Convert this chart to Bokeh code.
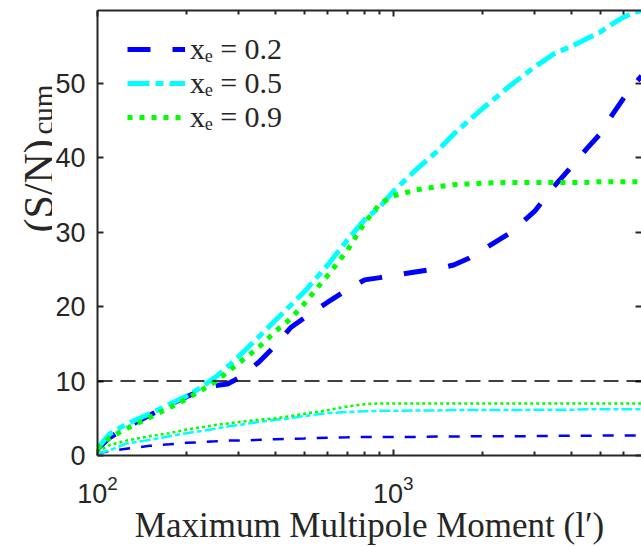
import math
from bokeh.plotting import figure
from bokeh.layouts import row
from bokeh.models import (FixedTicker, LogAxis, LinearAxis, Span, Label, Legend, LegendItem,
                          Range1d, CustomJSTickFormatter)
from bokeh.embed import file_html
from bokeh.resources import INLINE

# ---- data ----
ell = [100, 110, 125, 150, 175, 200, 225, 250, 275, 300, 350, 400, 450, 500, 600, 700, 800,
       900, 1000, 1200, 1400, 1600, 1800, 2000, 2500, 3000, 3500, 4000, 4500, 5000, 5500,
       6000, 6500, 6900]

sn_02_thick = [0.9, 2.4, 3.8, 5.4, 6.8, 7.9, 8.8, 9.4, 9.6, 10.4, 12.5, 14.8, 17.2, 18.5, 20.6,
               22.3, 23.6, 23.9, 24.2, 24.7, 25.1, 25.6, 26.5, 27.6, 30.0, 32.8, 36.2, 38.8,
               41.2, 43.2, 45.8, 48.0, 49.8, 51.0]
sn_05_thick = [1.0, 2.9, 4.2, 5.6, 6.9, 8.0, 9.2, 10.5, 11.9, 13.3, 15.9, 18.2, 20.2, 22.0, 25.6,
               29.0, 31.7, 33.4, 35.5, 38.5, 40.8, 43.2, 45.0, 46.6, 49.8, 52.2, 54.0, 55.0,
               56.0, 56.9, 58.0, 58.9, 59.5, 59.8]
sn_09_thick = [0.9, 2.4, 3.6, 5.1, 6.4, 7.6, 8.8, 9.9, 11.2, 12.4, 14.5, 16.7, 18.4, 20.4, 24.2,
               27.6, 31.3, 33.8, 34.9, 35.7, 36.1, 36.4, 36.5, 36.6, 36.7, 36.7, 36.7, 36.7,
               36.7, 36.8, 36.8, 36.8, 36.8, 36.8]

sn_02_thin = [0.3, 0.6, 0.9, 1.3, 1.5, 1.7, 1.8, 1.9, 2.0, 2.0, 2.1, 2.2, 2.25, 2.3, 2.4, 2.45,
              2.5, 2.5, 2.5, 2.5, 2.55, 2.55, 2.6, 2.6, 2.6, 2.6, 2.65, 2.65, 2.65, 2.7, 2.7,
              2.7, 2.7, 2.7]
sn_05_thin = [0.3, 0.7, 1.6, 2.1, 2.6, 3.0, 3.3, 3.6, 3.9, 4.1, 4.5, 4.8, 5.0, 5.3, 5.7, 5.85,
              5.95, 6.0, 6.0, 6.05, 6.05, 6.1, 6.1, 6.1, 6.1, 6.15, 6.15, 6.15, 6.2, 6.2, 6.2,
              6.2, 6.2, 6.2]
sn_09_thin = [0.5, 1.4, 2.0, 2.6, 3.0, 3.5, 3.8, 4.1, 4.3, 4.5, 4.8, 5.0, 5.3, 5.6, 6.1, 6.6,
              6.9, 7.0, 7.0, 7.0, 7.0, 7.0, 7.0, 7.0, 7.0, 7.0, 7.0, 7.0, 7.0, 7.0, 7.0, 7.0,
              7.0, 7.0]

legend_labels = ["x\u2091 = 0.2", "x\u2091 = 0.5", "x\u2091 = 0.9"]
x_title = "Maximum Multipole Moment (l\u2032)"
y_title_main = "(S/N)"
y_title_sub = "cum"
x_major = [100, 1000]
x_minor = [200, 300, 400, 500, 600, 700, 800, 900, 2000, 3000, 4000, 5000, 6000]
y_ticks = [0, 10, 20, 30, 40, 50]
threshold = 10
x_lo, x_hi = 100, 6900
y_lo, y_hi = 0, 59.8

AX = "#262626"
SANS = "Liberation Sans"
SERIF = "Liberation Serif"
LEFT_W = 52

p = figure(width=641 - LEFT_W, height=547, x_axis_type="log", output_backend="svg",
           toolbar_location=None, x_range=Range1d(x_lo, x_hi), y_range=Range1d(y_lo, y_hi),
           min_border_left=95 - LEFT_W, min_border_right=0, min_border_top=10,
           min_border_bottom=92, background_fill_color="white", border_fill_color="white")
p.outline_line_color = None
p.grid.visible = False

def style_axis(ax, labels=True):
    ax.axis_line_color = AX
    ax.axis_line_width = 2
    ax.major_tick_line_color = AX
    ax.minor_tick_line_color = AX
    ax.major_tick_line_width = 2
    ax.minor_tick_line_width = 2
    ax.major_tick_in = 6
    ax.major_tick_out = 0
    ax.minor_tick_in = 4
    ax.minor_tick_out = 0
    if labels:
        ax.major_label_text_font = SANS
        ax.major_label_text_font_size = "27px"
        ax.major_label_text_color = AX
    else:
        ax.formatter = CustomJSTickFormatter(code="return ''")
        ax.major_label_text_font_size = "6px"
        ax.major_label_standoff = 0

xt = FixedTicker(ticks=x_major, minor_ticks=x_minor)
yt = FixedTicker(ticks=y_ticks, minor_ticks=[])

p.xaxis.ticker = xt
p.yaxis.ticker = yt
style_axis(p.xaxis[0])
style_axis(p.yaxis[0])
p.xaxis.major_label_standoff = 19
p.yaxis.major_label_standoff = 12
p.xaxis.axis_label = x_title
p.xaxis.axis_label_text_font = SERIF
p.xaxis.axis_label_text_font_size = "35px"
p.xaxis.axis_label_text_font_style = "normal"
p.xaxis.axis_label_text_color = AX
p.xaxis.axis_label_standoff = 0

top = LogAxis(ticker=xt)
style_axis(top, labels=False)
p.add_layout(top, "above")
right = LinearAxis(ticker=yt)
style_axis(right, labels=False)
right.axis_line_color = None
p.add_layout(right, "right")

p.add_layout(Span(location=threshold, dimension="width", line_color="black",
                  line_width=1.5, line_dash="15 8"))

thin_w = 2.5
thick_w = 5
p.line(ell, sn_02_thin, line_color="#0000ff", line_width=thin_w, line_dash="11 11")
p.line(ell, sn_05_thin, line_color="#00ffff", line_width=thin_w, line_dash="11 3 5 3")
p.line(ell, sn_09_thin, line_color="#00ff00", line_width=thin_w, line_dash="3 3")

r2 = p.line(ell, sn_02_thick, line_color="#0000ff", line_width=thick_w, line_dash="23 22")
r5 = p.line(ell, sn_05_thick, line_color="#00ffff", line_width=thick_w, line_dash="22 6 8 6")
r9 = p.line(ell, sn_09_thick, line_color="#00ff00", line_width=thick_w, line_dash="5 7")

legend = Legend(items=[LegendItem(label=legend_labels[0], renderers=[r2]),
                       LegendItem(label=legend_labels[1], renderers=[r5]),
                       LegendItem(label=legend_labels[2], renderers=[r9])],
                location=(30, 321), padding=0, margin=0, spacing=0,
                glyph_width=58, glyph_height=34, label_height=34, label_standoff=5,
                label_text_font=SERIF, label_text_font_size="30px", label_text_color=AX,
                background_fill_alpha=0, border_line_color=None)
p.add_layout(legend)

# narrow companion panel holding the y title (needs a subscript)
q = figure(width=LEFT_W, height=547, output_backend="svg", toolbar_location=None,
           x_axis_location=None, y_axis_location=None, min_border=0,
           x_range=Range1d(0, 1), y_range=Range1d(0, 1),
           background_fill_color="white", border_fill_color="white")
q.outline_line_color = None
q.grid.visible = False
q.add_layout(Label(x=38, y=547 - 324, x_units="screen", y_units="screen", angle=math.pi / 2,
                   text=y_title_main, text_font=SERIF, text_font_size="42px", text_color=AX,
                   text_align="left", text_baseline="alphabetic"))
q.add_layout(Label(x=42, y=547 - 226, x_units="screen", y_units="screen", angle=math.pi / 2,
                   text=y_title_sub, text_font=SERIF, text_font_size="29px", text_color=AX,
                   text_align="left", text_baseline="alphabetic"))

layout = row(q, p, spacing=0)
open("out.html", "w").write(file_html(layout, INLINE))
